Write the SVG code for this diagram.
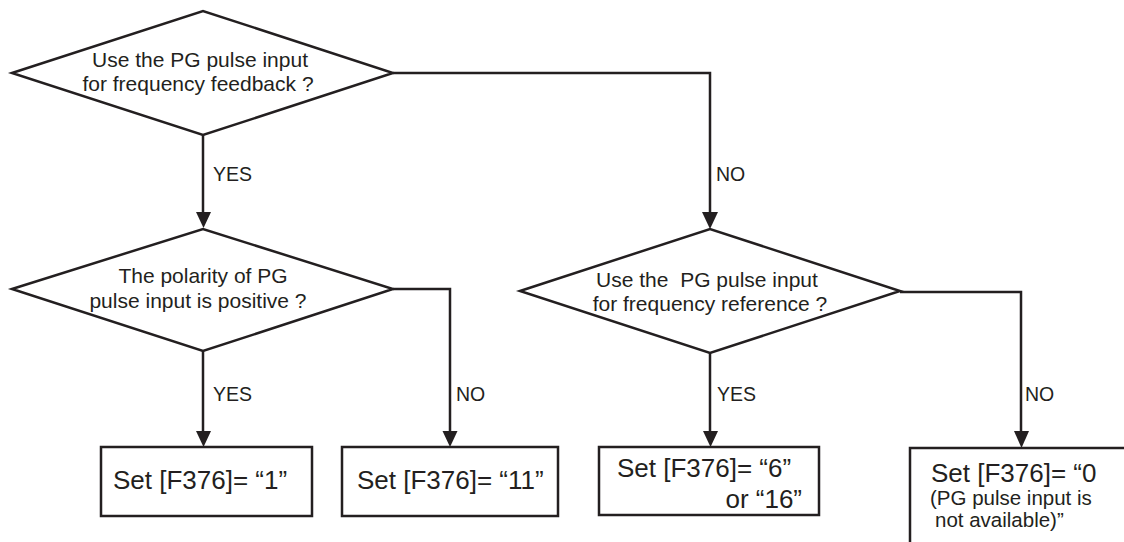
<svg xmlns="http://www.w3.org/2000/svg" width="1124" height="542" viewBox="0 0 1124 542">
<style>
.shape{fill:#fff;stroke:#231f20;stroke-width:2.5;stroke-linejoin:miter}
.line{fill:none;stroke:#231f20;stroke-width:2.5}
.head{fill:#231f20}
.q{font-family:"Liberation Sans",Arial,sans-serif;font-size:21px;fill:#231f20;text-anchor:middle}
.lbl{font-family:"Liberation Sans",Arial,sans-serif;font-size:19.5px;fill:#231f20}
.box{font-family:"Liberation Sans",Arial,sans-serif;font-size:26px;fill:#231f20}
.small{font-family:"Liberation Sans",Arial,sans-serif;font-size:20.5px;fill:#231f20}
</style>
<g id="connectors">
<path class="line" d="M203,135 V214"/>
<path class="line" d="M393,73 H710 V214"/>
<path class="line" d="M203,351 V433"/>
<path class="line" d="M393,289 H450 V433"/>
<path class="line" d="M710,353 V433"/>
<path class="line" d="M900,292 H1021 V433"/>
<path class="head" d="M196,212 L211,212 L203.5,228 Z"/>
<path class="head" d="M702,212 L718,212 L710,229 Z"/>
<path class="head" d="M196,431 L211,431 L203.5,447 Z"/>
<path class="head" d="M442.5,431 L457.5,431 L450,447 Z"/>
<path class="head" d="M703,431 L718,431 L710.5,447 Z"/>
<path class="head" d="M1014,431 L1029,431 L1021.5,448 Z"/>
<text class="lbl" x="213" y="181">YES</text>
<text class="lbl" x="716" y="181">NO</text>
<text class="lbl" x="213" y="401">YES</text>
<text class="lbl" x="456" y="401">NO</text>
<text class="lbl" x="717" y="401">YES</text>
<text class="lbl" x="1025" y="401">NO</text>
</g>
<g id="d1">
<polygon class="shape" points="12,73 203,11 393,73 203,135"/>
<text class="q" x="200" y="67">Use the PG pulse input</text>
<text class="q" x="198" y="91">for frequency feedback ?</text>
</g>
<g id="d2">
<polygon class="shape" points="12,289 203,229 393,289 203,351"/>
<text class="q" x="203" y="283">The polarity of PG</text>
<text class="q" x="198" y="308">pulse input is positive ?</text>
</g>
<g id="d3">
<polygon class="shape" points="520,291 710,229 900,291 710,353"/>
<text class="q" x="707" y="287" xml:space="preserve">Use the  PG pulse input</text>
<text class="q" x="710" y="311">for frequency reference ?</text>
</g>
<g id="b1">
<rect class="shape" x="101" y="447" width="211" height="69"/>
<text class="box" x="113" y="489">Set [F376]= “1”</text>
</g>
<g id="b2">
<rect class="shape" x="342" y="447" width="216" height="69"/>
<text class="box" x="357" y="489">Set [F376]= “11”</text>
</g>
<g id="b3">
<rect class="shape" x="599" y="447" width="220" height="68"/>
<text class="box" x="617" y="477">Set [F376]= “6”</text>
<text class="box" x="802" y="508" text-anchor="end">or “16”</text>
</g>
<g id="b4">
<path class="line" d="M1126,448 H910 V544"/>
<text class="box" x="931" y="482">Set [F376]= “0</text>
<text class="small" x="930" y="505">(PG pulse input is</text>
<text class="small" x="935" y="527">not available)”</text>
</g>
</svg>
